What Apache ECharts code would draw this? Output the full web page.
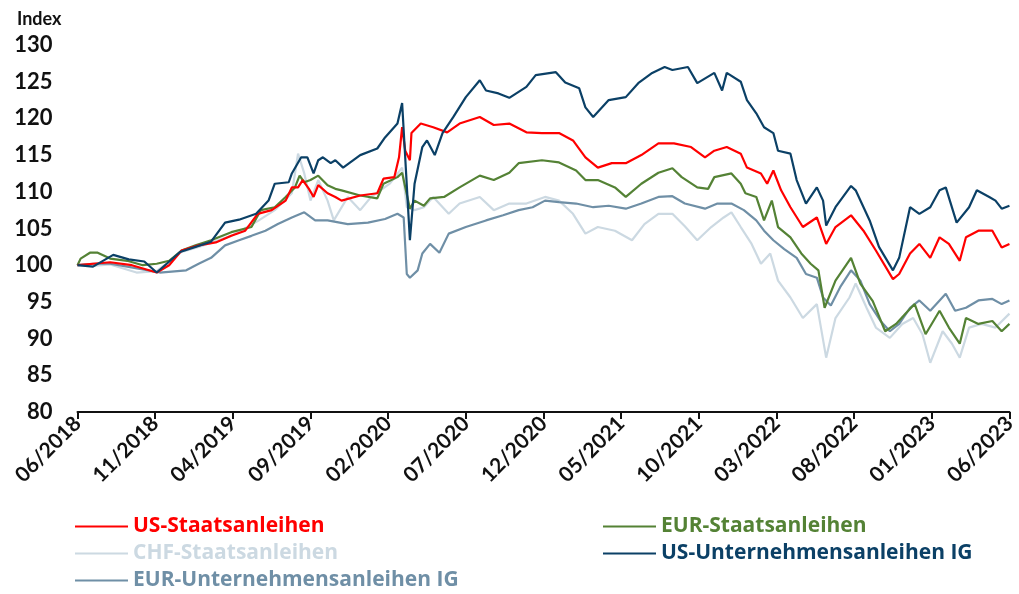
<!DOCTYPE html>
<html>
<head>
<meta charset="utf-8">
<script src="https://cdn.jsdelivr.net/npm/echarts@6/dist/echarts.min.js"></script>
<style>
html,body{margin:0;padding:0;background:#fff;}
#chart{width:1019px;height:594px;}
</style>
</head>
<body>
<div id="chart"></div>
<script>
// Months elapsed since 06/2018 on the x axis; tick every 5 months
const tickLabels = ["06/2018","11/2018","04/2019","09/2019","02/2020","07/2020","12/2020","05/2021","10/2021","03/2022","08/2022","01/2023","06/2023"];

const usGov = [[0,100],[1.0,100.2],[2.1,100.4],[3.5,100.0],[5.1,99.0],[5.9,100.0],[6.7,102.0],[7.8,102.7],[8.9,103.1],[9.9,104.0],[10.8,104.7],[11.6,107.0],[12.5,107.5],[13.4,108.8],[13.8,110.6],[14.2,110.6],[14.5,111.6],[14.9,110.4],[15.2,109.3],[15.5,110.9],[16.1,109.8],[16.6,109.3],[17.0,108.8],[18.2,109.5],[19.3,109.8],[19.7,111.8],[20.4,112.0],[20.7,114.7],[20.9,118.8],[21.1,115.6],[21.4,114.3],[21.5,118.0],[22.1,119.3],[22.9,118.8],[23.8,118.1],[24.6,119.3],[25.9,120.2],[26.8,119.1],[27.8,119.3],[28.9,118.1],[29.9,118.0],[31.0,118.0],[31.9,117.0],[32.7,114.7],[33.5,113.3],[34.4,113.9],[35.3,113.9],[36.3,115.0],[37.4,116.6],[38.4,116.6],[39.5,116.1],[40.4,114.7],[41.0,115.6],[41.8,116.1],[42.7,115.2],[43.1,113.3],[44.0,112.5],[44.4,111.1],[44.8,112.9],[45.3,110.2],[45.9,107.9],[46.7,105.2],[47.6,106.5],[48.2,102.9],[48.8,105.2],[49.8,106.8],[50.6,104.7],[51.4,102.0],[52.5,98.1],[52.9,98.8],[53.6,101.6],[54.2,102.9],[54.9,101.0],[55.5,103.8],[56.1,102.9],[56.8,100.6],[57.2,103.8],[58.0,104.7],[58.9,104.7],[59.5,102.4],[60,102.9]];

const eurGov = [[0,100],[0.2,100.9],[0.8,101.7],[1.3,101.7],[2.1,100.9],[3.2,100.6],[4.2,100.0],[5.1,100.2],[5.9,100.6],[6.7,102.0],[7.6,102.7],[8.6,103.4],[9.9,104.5],[11.2,105.2],[11.8,107.5],[12.7,107.9],[13.4,109.3],[14.0,110.6],[14.3,112.2],[14.6,111.3],[15.0,111.6],[15.5,112.2],[16.1,110.9],[16.6,110.4],[17.0,110.2],[18.2,109.5],[19.3,109.1],[19.7,111.1],[20.6,112.0],[20.9,112.6],[21.4,107.7],[21.7,108.8],[22.3,108.1],[22.7,109.1],[23.6,109.3],[24.6,110.6],[25.9,112.2],[26.8,111.6],[27.8,112.6],[28.4,113.9],[29.9,114.3],[31.0,114.0],[32.1,112.9],[32.7,111.6],[33.5,111.6],[34.6,110.6],[35.3,109.3],[36.3,111.1],[37.4,112.6],[38.3,113.2],[38.9,112.0],[39.9,110.6],[40.6,110.4],[41.0,112.0],[42.1,112.5],[42.7,111.1],[43.0,109.8],[43.7,109.3],[44.2,106.1],[44.7,108.8],[45.1,105.2],[45.9,103.8],[46.6,101.6],[47.2,100.2],[47.7,99.3],[48.1,94.2],[48.8,97.9],[49.8,101.0],[50.4,97.5],[51.2,95.1],[52.0,91.0],[52.7,92.0],[53.3,93.4],[53.9,94.7],[54.6,90.6],[55.5,93.8],[56.1,91.5],[56.8,89.3],[57.2,92.8],[58.0,92.0],[58.9,92.4],[59.5,91.0],[60,92.0]];

const chfGov = [[0,100],[1.0,99.9],[2.1,100.1],[3.8,99.0],[5.1,99.2],[6.7,101.8],[7.8,102.5],[9.9,104.0],[11.6,106.0],[12.7,107.5],[13.8,109.8],[14.2,115.2],[14.6,112.5],[15.0,108.8],[15.5,111.6],[16.1,108.8],[16.5,106.1],[17.4,109.3],[18.2,107.5],[18.9,109.3],[19.5,110.2],[20.1,111.1],[20.9,113.3],[21.2,107.9],[21.7,107.5],[22.3,107.9],[22.9,109.3],[23.9,107.0],[24.6,108.4],[25.9,109.3],[26.8,107.5],[27.8,108.4],[28.9,108.4],[30.1,109.3],[31.0,108.8],[31.9,107.0],[32.7,104.3],[33.5,105.2],[34.6,104.7],[35.7,103.4],[36.5,105.6],[37.4,107.0],[38.3,107.0],[39.1,105.3],[39.9,103.4],[40.8,105.2],[41.6,106.5],[42.1,107.2],[42.7,105.2],[43.4,102.9],[44.0,100.2],[44.6,101.6],[45.1,97.9],[45.9,95.6],[46.7,92.8],[47.6,94.7],[48.2,87.4],[48.8,92.8],[49.7,95.6],[50.1,97.5],[50.8,94.2],[51.4,91.5],[52.3,90.1],[53.1,92.0],[53.8,92.8],[54.4,90.6],[54.9,86.7],[55.7,91.0],[56.3,89.3],[56.8,87.4],[57.4,91.5],[58.2,92.0],[59.1,91.5],[60,93.4]];

const usCorp = [[0,100],[1.0,99.8],[2.3,101.4],[3.3,100.8],[4.3,100.5],[5.1,99.0],[5.8,100.3],[6.6,101.8],[7.6,102.5],[8.6,103.2],[9.5,105.8],[10.4,106.2],[11.5,107.0],[12.3,108.8],[12.7,111.1],[13.6,111.3],[13.8,112.5],[14.4,114.7],[14.8,114.7],[15.2,112.5],[15.5,114.3],[15.8,114.7],[16.3,113.9],[16.6,114.3],[17.1,113.3],[18.2,115.0],[19.3,115.9],[19.8,117.4],[20.6,119.3],[20.9,122.1],[21.4,103.4],[21.7,111.1],[22.2,116.1],[22.5,117.0],[23.0,115.0],[23.5,118.0],[24.2,120.2],[25.0,122.9],[25.9,125.2],[26.3,123.8],[27.1,123.4],[27.8,122.8],[28.9,124.3],[29.5,125.9],[30.8,126.3],[31.4,124.9],[32.3,124.1],[32.7,121.5],[33.2,120.2],[34.2,122.5],[35.3,122.9],[36.1,124.8],[37.0,126.2],[37.8,127.0],[38.3,126.6],[39.3,127.0],[39.9,124.8],[41.0,126.2],[41.5,123.8],[41.8,126.2],[42.7,125.0],[43.1,122.5],[43.7,120.7],[44.2,118.8],[44.8,118.0],[45.1,115.6],[45.9,115.2],[46.3,111.6],[46.9,108.4],[47.6,110.6],[48.0,108.8],[48.2,105.4],[48.8,107.9],[49.8,110.8],[50.1,110.2],[51.0,106.1],[51.6,102.5],[52.5,99.3],[52.9,101.0],[53.6,107.9],[54.2,107.0],[54.9,107.9],[55.5,110.2],[55.9,110.6],[56.6,105.8],[57.4,107.9],[57.9,110.2],[58.7,109.3],[59.1,108.8],[59.5,107.7],[60,108.1]];

const eurCorp = [[0,100],[1.0,100.2],[2.1,100.2],[3.2,99.8],[5.3,99.0],[7.0,99.3],[7.8,100.2],[8.6,101.0],[9.5,102.7],[10.4,103.4],[11.2,104.0],[12.1,104.7],[12.9,105.6],[13.8,106.5],[14.6,107.2],[15.3,106.1],[16.1,106.1],[17.4,105.6],[18.7,105.8],[19.8,106.3],[20.6,107.0],[21.0,106.5],[21.2,98.8],[21.4,98.3],[21.9,99.3],[22.2,101.6],[22.7,102.9],[23.3,101.7],[23.9,104.3],[25.0,105.2],[26.3,106.1],[27.4,106.8],[28.4,107.5],[29.3,107.9],[30.1,108.8],[31.0,108.6],[32.1,108.4],[33.2,107.9],[34.2,108.1],[35.3,107.7],[36.3,108.4],[37.4,109.3],[38.3,109.4],[39.1,108.4],[40.4,107.7],[41.2,108.4],[42.1,108.4],[42.9,107.5],[43.7,106.1],[44.2,104.7],[44.8,103.4],[45.5,102.2],[46.3,101.0],[46.9,98.8],[47.6,98.3],[48.0,95.6],[48.5,94.5],[49.1,97.0],[49.8,99.3],[50.4,97.9],[51.0,94.7],[51.7,92.4],[52.3,91.0],[52.9,92.0],[53.6,94.2],[54.2,95.2],[54.9,93.8],[55.9,96.1],[56.5,93.8],[57.2,94.2],[58.0,95.2],[58.9,95.4],[59.5,94.7],[60,95.2]];

const names = ["US-Staatsanleihen","EUR-Staatsanleihen","CHF-Staatsanleihen","US-Unternehmensanleihen IG","EUR-Unternehmensanleihen IG"];
const colors = {
  "US-Staatsanleihen":"#FF0000",
  "EUR-Staatsanleihen":"#548235",
  "CHF-Staatsanleihen":"#CCD9E2",
  "US-Unternehmensanleihen IG":"#0B4066",
  "EUR-Unternehmensanleihen IG":"#6F8FA6"
};

const font = "Lato, 'Open Sans', sans-serif";
const legendFont = "'Open Sans', Lato, sans-serif";
function mk(name, data, z) {
  return {
    name: name, type: 'line', data: data, symbol: 'none', showSymbol: false,
    z: z, lineStyle: {width: 2.2, color: colors[name]}, itemStyle: {color: colors[name]},
    animation: false
  };
}
function legendAt(n, left, top) {
  return {
    left: left, top: top, padding: 0, icon: 'rect', itemWidth: 53, itemHeight: 2, itemGap: 0,
    textStyle: {fontFamily: legendFont, fontSize: 21, fontWeight: 'bold', color: colors[n]},
    selectedMode: false,
    data: [{name: n, textStyle: {color: colors[n]}}]
  };
}

const chart = echarts.init(document.getElementById('chart'), null, {renderer: 'canvas'});
chart.setOption({
  animation: false,
  backgroundColor: '#ffffff',
  title: {text: 'Index', left: 12, top: 5, textStyle: {fontFamily: font, fontSize: 18, fontWeight: 'bold', color: '#111'}},
  grid: {left: 77.5, right: 1.5, top: 45, bottom: 182, containLabel: false},
  xAxis: {
    type: 'value', min: 0, max: 60, interval: 5,
    axisLine: {show: true, lineStyle: {color: '#111', width: 2}},
    axisTick: {show: true, length: 7, lineStyle: {color: '#111', width: 2}},
    splitLine: {show: false},
    axisLabel: {
      rotate: 45, margin: 8, fontFamily: font, fontSize: 21, fontWeight: 'bold', color: '#111',
      formatter: function(v){ return tickLabels[Math.round(v/5)] || ''; },
      showMinLabel: true, showMaxLabel: true
    }
  },
  yAxis: {
    type: 'value', min: 80, max: 130, interval: 5,
    axisLine: {show: false}, axisTick: {show: false}, splitLine: {show: false},
    axisLabel: {margin: 25, fontFamily: font, fontSize: 22, fontWeight: 'bold', color: '#111'}
  },
  legend: [
    legendAt(names[0], 75, 516),
    legendAt(names[2], 75, 543),
    legendAt(names[4], 75, 570),
    legendAt(names[1], 603, 516),
    legendAt(names[3], 603, 543)
  ],
  series: [
    mk(names[2], chfGov, 1),
    mk(names[4], eurCorp, 2),
    mk(names[1], eurGov, 3),
    mk(names[0], usGov, 4),
    mk(names[3], usCorp, 5)
  ]
});
</script>
</body>
</html>
